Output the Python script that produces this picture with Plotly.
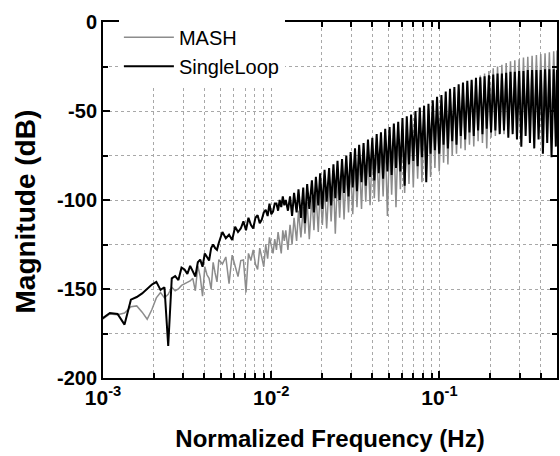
import numpy as np
import plotly.graph_objects as go

# FFT bin indices (fs = 1, N = 8192) at which the spectrum is sampled
bins = [
    *range(8, 41), *range(42, 99, 2),
    100, 103, 106, 109, 112, 116, 119, 123, 127, 130, 134, 138, 143, 147, 151,
    156, 160, 165, 170, 175, 181, 186, 192, 197, 203, 209, 216, 222, 229, 236,
    243, 250, 258, 265, 273, 282, 290, 299, 308, 317, 327, 336, 347, 357, 368,
    379, 390, 402, 414, 426, 439, 452, 466, 480, 494, 509, 524, 540, 556, 573,
    590, 608, 626, 645, 664, 684, 705, 726, 748, 770, 793, 817, 842, 867, 893,
    920, 947, 976, 1005, 1035, 1066, 1098, 1131, 1165, 1200, 1236, 1273, 1311,
    1351, 1391, 1433, 1476, 1520, 1566, 1613, 1661, 1711, 1762, 1815, 1870,
    1926, 1983, 2043, 2104, 2167, 2232, 2299, 2368, 2439, 2513, 2588, 2666,
    2746, 2828, 2913, 3000, 3090, 3183, 3279, 3377, 3478, 3583, 3690, 3801,
    3915, 4032, 4096,
]
N_FFT = 8192

mash = [
    # k 8..40
    -167.5, -164, -164.5, -163.5, -160, -159.5, -163, -167, -161.5, -155, -152,
    -155, -153, -149, -151, -150, -148, -147, -146, -145.5, -144, -151, -137,
    -143, -154, -137.5, -142, -144, -150, -135, -141, -146, -133.5,
    # k 42..98 step 2
    -136, -132, -147, -131, -137.5, -143, -134, -133.7, -152, -130, -134, -128,
    -136, -139, -127, -132, -137.5, -125, -133, -121, -126, -130, -122, -128,
    -118, -124, -130, -117, -123,
    # k 100..4096
    -117, -128, -114, -125, -110, -123, -106, -121, -104, -119,
    -101, -122, -98, -117, -96, -118, -94, -114, -92, -116,
    -90, -112, -88, -119, -86, -110, -84, -111, -82, -107,
    -80, -108, -78, -104, -76, -105, -74, -101, -72, -103,
    -71, -99, -69, -101, -68, -98, -66, -109, -65, -97,
    -63, -104, -62, -94, -60, -96, -57, -91, -56, -93,
    -54, -88, -52, -90, -51, -85, -49, -87, -47, -82,
    -46, -84, -44, -79, -42, -80, -41, -75, -39.5, -74,
    -38, -71, -36, -72, -34.5, -69, -33, -70, -31, -67,
    -30, -68, -29, -71, -27.5, -65, -26, -64, -25, -62,
    -24, -63, -23, -60, -22, -61, -21.5, -59, -21, -60,
    -20, -57, -19.5, -58, -19, -56, -18.5, -57, -18, -55,
    -17.5, -56, -17, -62, -16.5, -55, -16,
]

single_loop = [
    # k 8..40
    -167, -163.5, -164, -170, -156, -154.5, -152.5, -150, -147.5, -146, -150.5,
    -149, -182, -144, -142.7, -145, -138, -139, -141.5, -137, -140, -143, -135,
    -133.5, -137.5, -130, -132, -134, -127, -125, -127, -128, -124,
    # k 42..98 step 2
    -118, -121.5, -119.5, -122.5, -115, -118, -116, -112, -117, -110, -114, -116,
    -110, -108.5, -113, -111, -107, -105.5, -109, -102, -108, -106.5, -102, -102,
    -106, -100, -104, -98, -103,
    # k 100..4096
    -100, -106, -98, -109, -96, -107, -94, -110, -93, -113,
    -91, -105, -89, -107, -87, -103, -85, -105, -83, -101,
    -82, -103, -80, -99, -78, -100, -77, -96, -75, -98,
    -73, -93, -71, -95, -69, -90, -68, -92, -66, -87,
    -65, -89, -63, -85, -62, -88, -60, -84, -59, -86,
    -57, -82, -56, -84, -54, -92, -53, -80, -52, -78,
    -50, -81, -48, -76, -47, -90, -46, -74, -44, -72,
    -42, -74, -41, -69, -39, -71, -37.5, -67, -36.5, -69,
    -35, -64, -34, -66, -33, -62, -32.5, -64, -31.5, -61,
    -31, -63, -30.5, -60, -30, -62, -29.5, -61, -29, -63,
    -29, -61, -28.5, -65, -28, -63, -28, -66, -27.5, -70,
    -27.5, -64, -27, -68, -27, -71, -27, -66, -27, -74,
    -26.5, -68, -26.5, -76, -26.5, -70, -27,
]

series_names = ["MASH", "SingleLoop"]
x_tick_vals = [1e-3, 1e-2, 1e-1]
x_tick_text = ["10<sup>-3</sup>", "10<sup>-2</sup>", "10<sup>-1</sup>"]
y_tick_vals = [-200, -150, -100, -50, 0]
y_tick_text = ["-200", "-150", "-100", "-50", "0"]

n = min(len(bins), len(mash), len(single_loop))
freq = np.array(bins[:n]) / N_FFT

FONT = "Liberation Sans, Arial, sans-serif"

fig = go.Figure()
fig.add_trace(go.Scatter(x=freq, y=mash[:n], mode="lines", name=series_names[0],
                         line=dict(color="#8c8c8c", width=1.5)))
fig.add_trace(go.Scatter(x=freq, y=single_loop[:n], mode="lines", name=series_names[1],
                         line=dict(color="#000000", width=2)))

grid = dict(showgrid=True, gridcolor="#a8a8a8", gridwidth=1, griddash="dot")

fig.update_xaxes(
    type="log", range=[np.log10(1e-3), np.log10(0.5)],
    tickvals=x_tick_vals, ticktext=x_tick_text,
    ticks="inside", ticklen=7, tickwidth=2, tickcolor="black",
    showline=True, linecolor="black", linewidth=2, mirror="allticks",
    tickfont=dict(family=FONT, size=21, color="black", weight="bold"),
    title=dict(text="Normalized Frequency (Hz)", standoff=22,
               font=dict(family=FONT, size=24, color="black", weight="bold")),
    minor=dict(dtick="D1", ticks="inside", ticklen=5, tickwidth=1.5, tickcolor="black",
               showgrid=True, gridcolor="#a8a8a8", gridwidth=1, griddash="dot"),
    zeroline=False, **grid,
)
fig.update_yaxes(
    range=[-200, 0], tickvals=y_tick_vals, ticktext=y_tick_text,
    ticks="inside", ticklen=7, tickwidth=2, tickcolor="black",
    showline=True, linecolor="black", linewidth=2, mirror="allticks",
    tickfont=dict(family=FONT, size=20, color="black", weight="bold"),
    minor=dict(dtick=25, ticks="inside", ticklen=5, tickwidth=1.5, tickcolor="black",
               showgrid=True, gridcolor="#a8a8a8", gridwidth=1, griddash="dot"),
    zeroline=False, **grid,
)

fig.update_layout(
    width=560, height=456,
    margin=dict(l=103, r=1, t=22, b=78),
    paper_bgcolor="white", plot_bgcolor="white",
    showlegend=True,
    legend=dict(x=0.035, y=1.012, xanchor="left", yanchor="top",
                bgcolor="white", borderwidth=0, itemwidth=50,
                font=dict(family=FONT, size=20, color="black"),
                tracegroupgap=0),
    annotations=[dict(text="Magnitude (dB)", textangle=-90, showarrow=False,
                      xref="paper", yref="paper",
                      x=(24 - 103) / 457, y=1 - (212 - 22) / 356,
                      xanchor="center", yanchor="middle",
                      font=dict(family=FONT, size=28, color="black", weight="bold"))],
)

fig.write_html("out.html")
